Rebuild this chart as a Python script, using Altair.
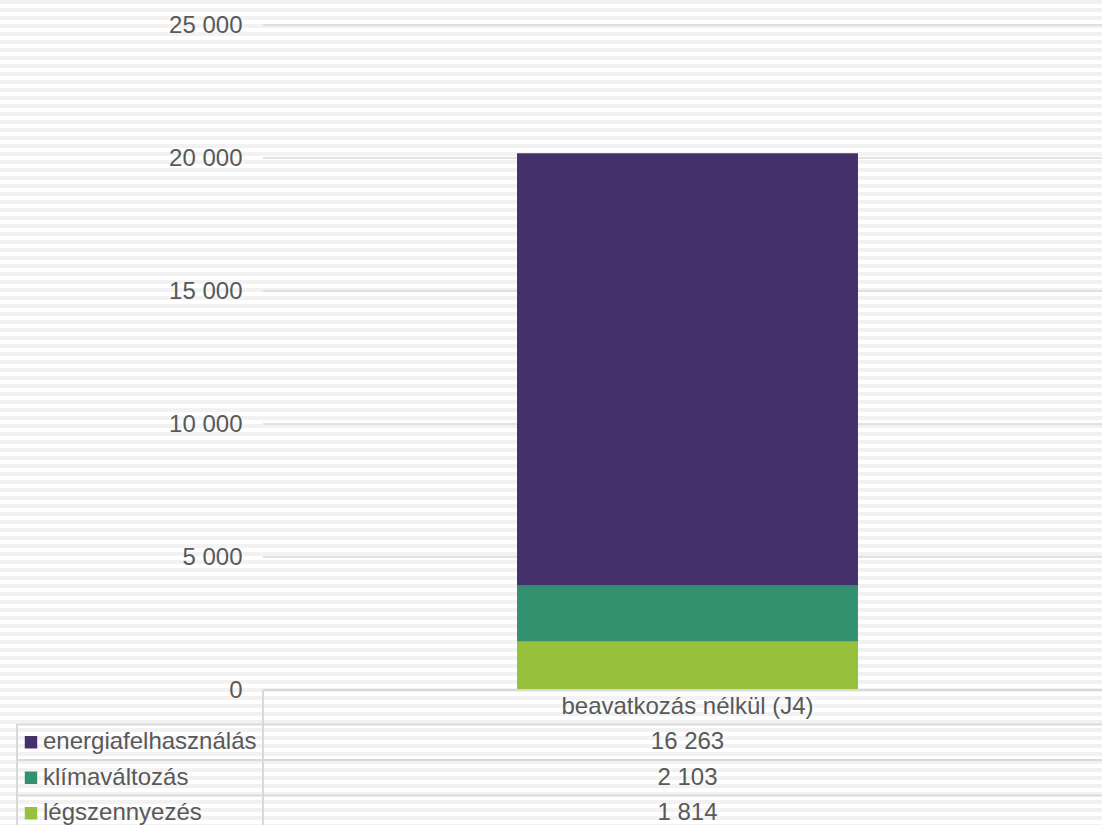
import altair as alt
import pandas as pd

# ---- data -------------------------------------------------------------
scenario = "beavatkozás nélkül (J4)"
series = ["energiafelhasználás", "klímaváltozás", "légszennyezés"]
values = [16263, 2103, 1814]
colors = ["#46306b", "#33916f", "#97c13d"]
stack_rank = [2, 1, 0]  # légszennyezés sits at the bottom of the stack
y_ticks = [0, 5000, 10000, 15000, 20000, 25000]

# ---- layout / style ---------------------------------------------------
W, H = 839, 665          # plot area
BAND = 849               # category band runs a little past the right edge
TABLE_BOTTOM = 807       # data-table rows live below the plot area
TEXT = "#595959"
LINE = "#d9d9d9"
FONT = "Liberation Sans"
FS = 24


def fmt(v):
    return f"{v:,}".replace(",", " ")


bars = pd.DataFrame({"scenario": scenario, "series": series,
                     "value": values, "rank": stack_rank})

rows = [scenario] + series
table = pd.DataFrame({
    "scenario": scenario,
    "row": rows,
    "cell": [scenario] + [fmt(v) for v in values],
})
header_row = table.iloc[:1]
data_rows = table.iloc[1:].assign(series=series)
grid = pd.DataFrame({"tick": y_ticks})

x_band = alt.X("scenario:N",
               scale=alt.Scale(domain=[scenario], range=[0, BAND],
                               paddingInner=0, paddingOuter=0),
               axis=None)
row_scale = alt.Scale(domain=rows, range=[H - 1, TABLE_BOTTOM - 1],
                      paddingInner=0, paddingOuter=0)
row_mid = alt.Y("row:N", scale=row_scale, axis=None)
row_top = alt.Y("row:N", scale=row_scale, axis=None, bandPosition=0)
color = alt.Color("series:N", scale=alt.Scale(domain=series, range=colors),
                  legend=None)

# striped page background
stops = []
for k in range(0, 825, 8):
    a, b, c = k / 825, min(k + 4, 825) / 825, min(k + 8, 825) / 825
    stops += [alt.GradientStop(color="#f2f2f2", offset=a),
              alt.GradientStop(color="#f2f2f2", offset=b),
              alt.GradientStop(color="#ffffff", offset=b),
              alt.GradientStop(color="#ffffff", offset=c)]
stripes = alt.LinearGradient(gradient="linear", stops=stops,
                             x1=0, x2=0, y1=0, y2=1)
one = alt.Data(values=[{}])

background = alt.Chart(one).mark_rect(fill=stripes, strokeWidth=0).encode(
    x=alt.value(-263), x2=alt.value(W), y=alt.value(-25), y2=alt.value(825 - 25)
)

gridlines = alt.Chart(grid).mark_rule(color=LINE, strokeWidth=1.5).encode(
    y=alt.Y("tick:Q", scale=alt.Scale(domain=[0, 25000]), axis=None),
    x=alt.value(0), x2=alt.value(W),
)

bar = alt.Chart(bars).mark_bar(width=alt.RelativeBandSize(0.4016)).encode(
    x=x_band,
    y=alt.Y("value:Q", stack="zero",
            scale=alt.Scale(domain=[0, 25000]),
            axis=alt.Axis(values=y_ticks,
                          labelExpr="replace(format(datum.value, ','), ',', ' ')",
                          grid=False, ticks=False, domain=False, tickSize=0,
                          labelPadding=21, labelFontSize=FS, labelColor=TEXT,
                          labelFont=FONT, title=None, zindex=1)),
    color=color,
    order=alt.Order("rank:Q"),
)

# data table borders
header_line = alt.Chart(header_row).mark_rule(color=LINE, strokeWidth=2).encode(
    y=alt.value(H), x=alt.value(0), x2=alt.value(W))
row_lines = alt.Chart(data_rows).mark_rule(color=LINE, strokeWidth=2).encode(
    y=row_top, x=alt.value(-246), x2=alt.value(W))
col_line = alt.Chart(one).mark_rule(color=LINE, strokeWidth=2).encode(
    x=alt.value(0), y=alt.value(H), y2=alt.value(825 - 25))
edge_line = alt.Chart(one).mark_rule(color=LINE, strokeWidth=2).encode(
    x=alt.value(-246), y=alt.value(699), y2=alt.value(825 - 25))

cells = alt.Chart(table).mark_text(
    font=FONT, fontSize=FS, color=TEXT, align="center", baseline="middle"
).encode(x=x_band, y=row_mid, text="cell:N")

keys = alt.Chart(data_rows).mark_square(size=155, opacity=1).encode(
    x=alt.value(-232), y=row_mid, color=color)

names = alt.Chart(data_rows).mark_text(
    font=FONT, fontSize=FS, color=TEXT, align="left", baseline="middle"
).encode(x=alt.value(-220), y=row_mid, text="series:N")

chart = alt.layer(
    background, gridlines, bar, header_line, row_lines, col_line, edge_line,
    cells, keys, names,
).resolve_scale(y="independent").properties(
    width=W, height=H,
    autosize=alt.AutoSizeParams(type="none"),
    padding={"left": 263, "top": 25, "right": 0, "bottom": 825 - 25 - H},
    background="white",
).configure_view(stroke=None)

chart.save("out.html", embed_options={"renderer": "svg", "actions": False})
